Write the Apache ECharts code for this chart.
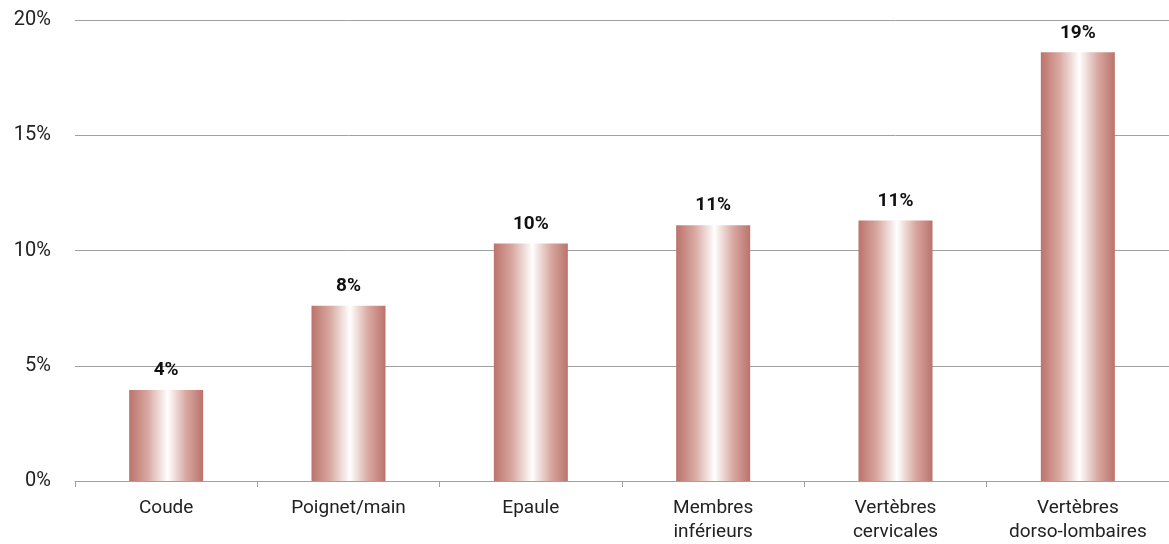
<!DOCTYPE html>
<html><head><meta charset="utf-8">
<script src="https://cdn.jsdelivr.net/npm/echarts@6/dist/echarts.min.js"></script>
<style>html,body{margin:0;padding:0;background:#fff}#c{width:1169px;height:544px}</style>
</head><body><div id="c"></div>
<script>
var categories = ['Coude', 'Poignet/main', 'Epaule', 'Membres\ninférieurs', 'Vertèbres\ncervicales', 'Vertèbres\ndorso-lombaires'];
var values = [3.95, 7.6, 10.3, 11.1, 11.3, 18.6];
var valueLabels = ['4%', '8%', '10%', '11%', '11%', '19%'];
var yTicks = [0, 5, 10, 15, 20];

var chart = echarts.init(document.getElementById('c'));
var grad = new echarts.graphic.LinearGradient(0, 0, 1, 0, [
  {offset: 0, color: '#bb736b'},
  {offset: 0.25, color: '#d8a8a1'},
  {offset: 0.52, color: '#ffffff'},
  {offset: 0.77, color: '#d8a8a1'},
  {offset: 1, color: '#bb736b'}
]);
chart.setOption({
  animation: false,
  textStyle: {fontFamily: 'Roboto'},
  grid: {left: 75, right: 0, top: 20, bottom: 63},
  xAxis: {
    type: 'category', data: categories,
    axisLine: {lineStyle: {color: '#a0a0a0', width: 1}},
    axisTick: {show: true, length: 6, lineStyle: {color: '#a0a0a0'}},
    axisLabel: {color: '#222', fontSize: 19, lineHeight: 24, margin: 15, interval: 0}
  },
  yAxis: {
    type: 'value', min: 0, max: 20, interval: 5,
    axisLine: {show: false}, axisTick: {show: false},
    splitLine: {lineStyle: {color: '#a0a0a0', width: 1}},
    axisLabel: {color: '#222', fontSize: 20, margin: 24, formatter: function(v){return v + '%';}}
  },
  series: [{
    type: 'bar', data: values, barWidth: 74,
    itemStyle: {color: grad},
    label: {show: true, position: 'top', distance: 10, color: '#111', fontSize: 19, fontWeight: 'bold',
      formatter: function(p){return valueLabels[p.dataIndex];}}
  }]
});
</script></body></html>
